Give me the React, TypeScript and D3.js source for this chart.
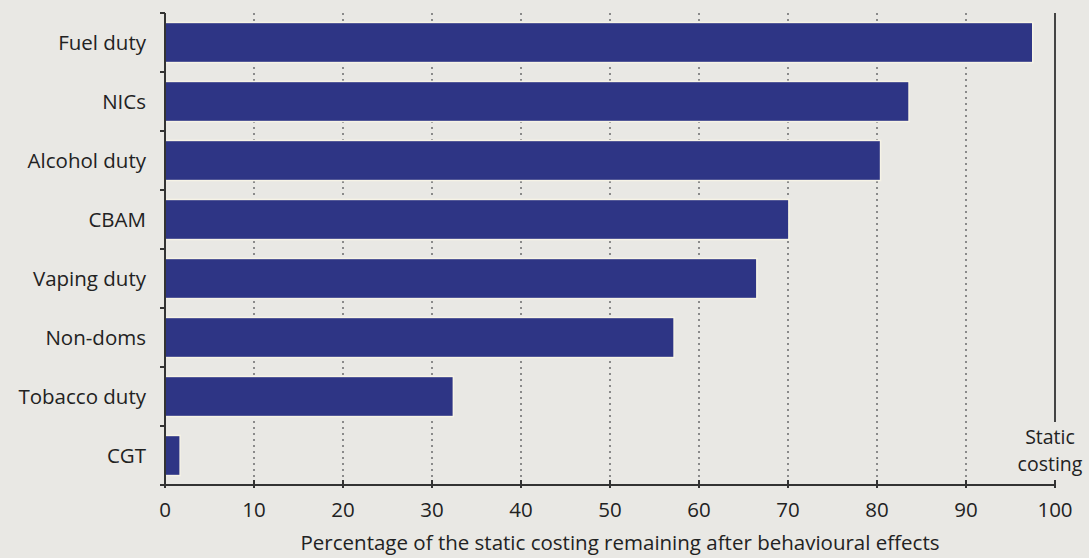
import React from "react";
import * as d3 from "d3";

const categories = ["Fuel duty", "NICs", "Alcohol duty", "CBAM", "Vaping duty", "Non-doms", "Tobacco duty", "CGT"];
const values = [97.5, 83.6, 80.4, 70.1, 66.5, 57.2, 32.4, 1.7];
const xTicks = [0, 10, 20, 30, 40, 50, 60, 70, 80, 90, 100];
const xTitle = "Percentage of the static costing remaining after behavioural effects";
const refLabel = ["Static", "costing"];
const refValue = 100;

const W = 1089, H = 558;
const M = { left: 165, right: 34, top: 13, bottom: 73 };
const FONT = "'Open Sans', sans-serif";
const FS = 20.5;
const TXT = "#222";

export default function App() {
  const x = d3.scaleLinear().domain([0, 100]).range([M.left, W - M.right]);
  const y = d3.scaleBand().domain(categories).range([M.top, H - M.bottom]).paddingInner(0.32).paddingOuter(0.16);
  const step = y.step();
  const y0 = M.top, y1 = H - M.bottom;
  const bounds = d3.range(categories.length + 1).map((i) => y0 + i * step);
  return (
    <svg width={W} height={H} style={{ position: "absolute", left: 0, top: 0, background: "#e9e8e4" }}>
      <rect x={0} y={0} width={W} height={H} fill="#e9e8e4" />
      {xTicks.filter((t) => t > 0 && t < 100).map((t) => (
        <line key={"g" + t} x1={x(t)} x2={x(t)} y1={y0} y2={y1} stroke="#8a8a8a" strokeWidth={2} strokeDasharray="2,4" />
      ))}
      <line x1={x(refValue)} x2={x(refValue)} y1={y0} y2={422} stroke="#444" strokeWidth={2} />
      {categories.map((c, i) => (
        <rect key={c} x={x(0)} y={y(c)} width={x(values[i]) - x(0)} height={y.bandwidth()} fill="#2e3585" stroke="#f6f3e6" strokeWidth={1.5} />
      ))}
      <line x1={M.left} x2={M.left} y1={y0} y2={y1} stroke="#333" strokeWidth={2} />
      {bounds.map((b, i) => (
        <line key={"yt" + i} x1={M.left - 5} x2={M.left} y1={b} y2={b} stroke="#333" strokeWidth={2} />
      ))}
      <line x1={M.left} x2={x(100)} y1={y1} y2={y1} stroke="#333" strokeWidth={2} />
      {xTicks.map((t) => (
        <g key={"xt" + t}>
          <line x1={x(t)} x2={x(t)} y1={y1 - 5} y2={y1 + 3} stroke="#333" strokeWidth={2} />
          <text x={x(t)} y={517} textAnchor="middle" fontFamily={FONT} fontSize={FS} fill={TXT}>{t}</text>
        </g>
      ))}
      {categories.map((c) => (
        <text key={"l" + c} x={M.left - 19} y={(y(c) as number) + y.bandwidth() / 2 + 7.5} textAnchor="end" fontFamily={FONT} fontSize={FS} fill={TXT}>{c}</text>
      ))}
      <text x={1050} y={444} textAnchor="middle" fontFamily={FONT} fontSize={19.5} fill={TXT}>{refLabel[0]}</text>
      <text x={1050} y={471} textAnchor="middle" fontFamily={FONT} fontSize={19.5} fill={TXT}>{refLabel[1]}</text>
      <text x={620} y={550} textAnchor="middle" fontFamily={FONT} fontSize={FS} fill={TXT}>{xTitle}</text>
    </svg>
  );
}
